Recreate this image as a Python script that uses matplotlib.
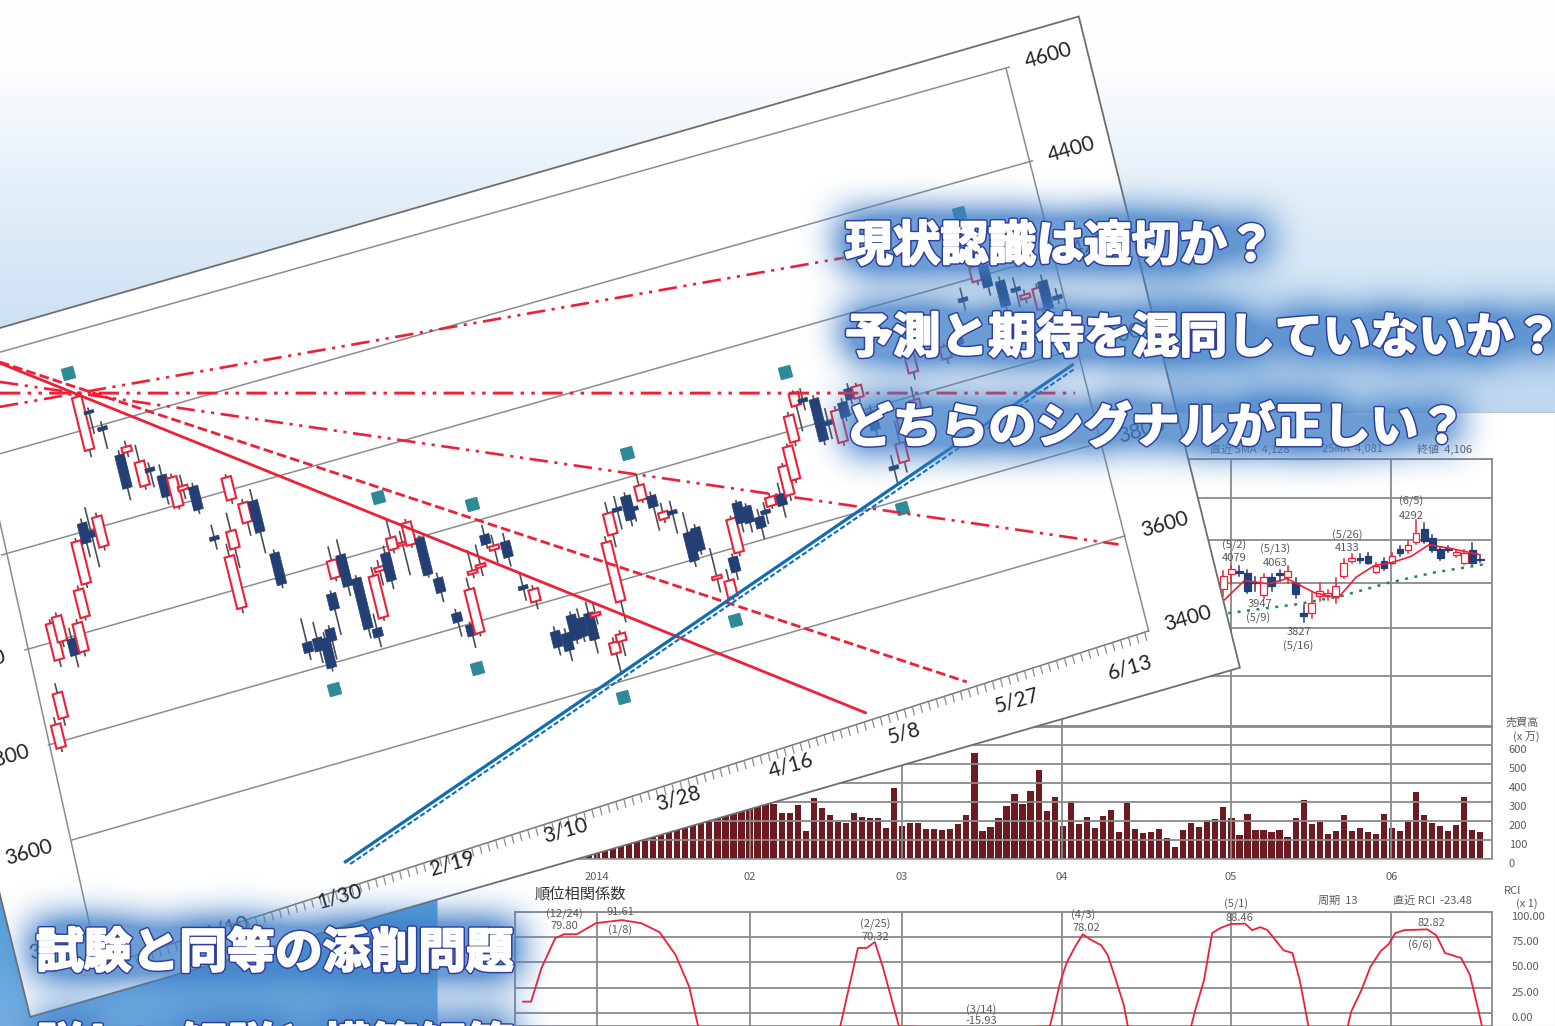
import numpy as np
import matplotlib
matplotlib.use('Agg')
import matplotlib.pyplot as plt
import matplotlib.patheffects as pe
from matplotlib.patches import Rectangle, Polygon
from matplotlib.markers import MarkerStyle
from matplotlib.transforms import Affine2D

plt.rcParams['font.family'] = ['Noto Sans CJK JP', 'DejaVu Sans']

W, H = 1555, 1026

# ---- tilted chart data (day number, price)
main_days = [1.4, 2.5, 3.7, 4.6, 5.7, 6.8, 7.9, 9.0, 10.2, 11.0, 12.1, 13.2, 14.2, 15.3, 16.5, 17.5, 18.6, 19.6, 20.8,
             21.9, 22.9, 24.1, 25.1, 26.3, 27.2, 28.2, 29.4, 30.6, 31.6, 32.8, 34.1, 35.0, 35.8, 37.0, 38.0, 39.2,
             40.35, 41.3, 42.4, 43.3, 44.4, 45.5, 46.7, 47.7, 48.8, 49.8, 50.9, 52.2, 53.1, 54.0, 55.1, 56.4, 57.2,
             58.6, 59.4, 60.5, 61.8, 63.0, 64.1, 65.0, 66.2, 67.0, 68.3, 69.3, 70.3, 71.3, 72.5, 73.8, 74.4, 75.7,
             76.8, 77.7, 78.8, 80.0, 81.0, 82.1, 83.4, 84.5, 85.4, 86.5, 87.5, 88.7, 89.6, 90.5, 91.8, 92.9, 94.0,
             95.0, 96.2, 97.1, 98.4, 99.4, 100.6, 101.6, 102.7, 103.7, 104.7, 105.7, 107.1, 108.0, 110.0, 110.7,
             115.0, 116.8, 118.5, 120.7, 121.8, 123.3, 124.9, 125.8, 127.4, 128.2, 129.5]
main_open = [3788, 3845, 3962, 3996, 3996, 3964, 4031, 4096, 4217, 4197, 4159, 4357, 4434, 4395, 4330, 4331, 4255, 4287,
             4266, 4195, 4225, 4226, 4116, 3960, 4081, 4179, 4125, 4164, 4049, 3855, 3858, 3853, 3869, 3937, 3966, 4008,
             3953, 3843, 3861, 3954, 3986, 3989, 3992, 3988, 3996, 3907, 3828, 3797, 3776, 3896, 3904, 3966, 3931, 3941,
             3844, 3806, 3736, 3726, 3759, 3748, 3753, 3743, 3658, 3679, 3758, 3894, 3944, 3962, 3936, 3945, 3948, 3895,
             3907, 3855, 3860, 3747, 3703, 3781, 3787, 3886, 3873, 3845, 3855, 3860, 3878, 3871, 3898, 3973, 4043, 4053,
             4046, 3994, 3945, 4023, 4047, 4023, 3990, 3869, 3871, 3937, 3967, 4042, 4050, 4095, 4160, 4185, 4212, 4172,
             4150, 4123, 4093, 4148, 4111]
main_close = [3836, 3897, 4038, 4048, 3961, 4023, 4088, 4184, 4175, 4183, 4221, 4468, 4428, 4387, 4260, 4342, 4305, 4279,
              4221, 4256, 4233, 4177, 4108, 4068, 4117, 4225, 4165, 4098, 3983, 3834, 3831, 3791, 3843, 3904, 4002, 3942,
              3847, 3825, 3948, 3962, 3928, 4013, 3997, 4034, 3919, 3877, 3809, 3774, 3867, 3902, 3910, 3946, 3939, 3908,
              3836, 3831, 3703, 3690, 3707, 3709, 3697, 3749, 3681, 3694, 3882, 3938, 3936, 3912, 3928, 3975, 3924, 3909,
              3899, 3795, 3812, 3753, 3737, 3750, 3857, 3843, 3839, 3822, 3847, 3878, 3854, 3931, 3967, 4027, 4069, 4045,
              3958, 3986, 4011, 3992, 4024, 4047, 3950, 3861, 3910, 3960, 3987, 4078, 4075, 4070, 4152, 4215, 4167, 4119,
              4142, 4131, 4137, 4089, 4103]
main_high = [3850, 3916, 4045, 4055, 4017, 4030, 4095, 4190, 4225, 4245, 4228, 4472, 4439, 4405, 4338, 4353, 4339, 4297,
             4287, 4262, 4255, 4232, 4139, 4093, 4154, 4230, 4172, 4187, 4055, 3904, 3890, 3864, 3875, 3942, 4030, 4039,
             3958, 3872, 3965, 3975, 4000, 4050, 4020, 4040, 4000, 3917, 3835, 3802, 3890, 3944, 3950, 3985, 3960, 3957,
             3867, 3838, 3745, 3735, 3765, 3767, 3775, 3770, 3690, 3700, 3893, 3960, 3967, 3968, 3960, 3998, 3955, 3927,
             3926, 3896, 3866, 3810, 3760, 3787, 3862, 3890, 3878, 3860, 3870, 3885, 3900, 3936, 3972, 4034, 4073, 4073,
             4052, 4020, 4018, 4030, 4056, 4052, 4000, 3890, 3956, 3970, 4013, 4085, 4080, 4105, 4180, 4225, 4220, 4180,
             4170, 4140, 4145, 4160, 4125]
main_low = [3780, 3830, 3948, 3985, 3937, 3955, 4025, 4088, 4147, 4122, 4152, 4343, 4387, 4350, 4236, 4322, 4248, 4248,
            4206, 4190, 4207, 4170, 4090, 3950, 4041, 4171, 4098, 4055, 3977, 3820, 3807, 3785, 3806, 3852, 3960, 3923,
            3828, 3805, 3855, 3925, 3912, 3982, 3930, 3983, 3915, 3858, 3780, 3750, 3770, 3888, 3887, 3938, 3905, 3890,
            3814, 3791, 3687, 3669, 3700, 3700, 3670, 3727, 3614, 3649, 3715, 3868, 3900, 3900, 3907, 3940, 3876, 3888,
            3860, 3784, 3805, 3720, 3698, 3735, 3780, 3825, 3820, 3800, 3827, 3855, 3830, 3860, 3892, 3965, 3990, 4030,
            3950, 3958, 3938, 3985, 4015, 4015, 3935, 3833, 3850, 3930, 3960, 4028, 4040, 4055, 4135, 4178, 4150, 4105,
            4110, 4115, 4085, 4080, 4095]

signal_days = [12.9, 45.2, 55.9, 75.3, 95.9, 120.5, 34.6, 51.8, 67.8, 83.0, 105.5]
signal_price = [4520, 4100, 4033, 4045, 4115, 4329, 3748, 3708, 3569, 3656, 3782]

grid_levels = [3600, 3800, 4000, 4200, 4400, 4600]
right_labels = [3400, 3600, 3800, 4000, 4200, 4400, 4600]
left_labels = [3400, 3600, 3800, 4000]
date_days = [15.3, 29.3, 43.3, 57.3, 71.3, 85.3, 99.3, 113.3, 127.3]
date_labels = ['1/10', '1/30', '2/19', '3/10', '3/28', '4/16', '5/8', '5/27', '6/13']

# ---- back chart data
vol = [260, 270, 280, 290, 300, 305, 310, 315, 320, 320, 325, 330, 330, 335, 335, 340, 340, 345, 345, 350, 350, 350,
       340, 288,
       240, 240, 284, 149, 319, 267, 232, 196, 188, 240, 223, 214, 218, 165, 372, 175, 191, 189, 158, 156, 151, 158,
       182, 230, 556, 149, 167, 218, 279, 344, 288, 356, 468, 251, 325, 175, 304, 184, 223, 165, 225, 256, 140, 293,
       158, 135, 140, 156, 109, 65, 151, 191, 170, 204, 211, 272, 216, 128, 239, 153, 151, 144, 151, 114, 214, 312,
       184, 193, 130, 146, 233, 146, 165, 140, 130, 239, 165, 146, 200, 353, 232, 189, 172, 146, 177, 328, 151, 140]
month_pos = [1, 20, 39, 58.9, 79.95, 99.9]
month_labels = ['2014', '02', '03', '04', '05', '06']

back_days = list(range(79, 112))
back_open = [3974, 4042, 4055, 4047, 4003, 3947, 4025, 4044, 4025, 4000, 3866, 3866, 3942, 3942, 3942, 4033, 4100, 4115,
             4122, 4051, 4102, 4093, 4157, 4152, 4188, 4250, 4210, 4157, 4160, 4130, 4093, 4152, 4110]
back_close = [4033, 4065, 4047, 3965, 3998, 4025, 3988, 4038, 4056, 3952, 3853, 3911, 3965, 3955, 3988, 4093, 4115, 4105,
              4093, 4079, 4070, 4122, 4135, 4176, 4230, 4195, 4150, 4115, 4150, 4140, 4135, 4093, 4103]
back_high = [4055, 4079, 4079, 4060, 4025, 4040, 4040, 4060, 4075, 4020, 3900, 3955, 4000, 3970, 4020, 4110, 4133, 4133,
             4135, 4090, 4115, 4135, 4170, 4195, 4292, 4280, 4220, 4165, 4170, 4150, 4150, 4185, 4128]
back_low = [3942, 3996, 4033, 3955, 3965, 3933, 3965, 4010, 4000, 3933, 3827, 3845, 3920, 3925, 3911, 4020, 4090, 4090,
            4085, 4045, 4060, 4085, 4125, 4135, 4180, 4185, 4140, 4105, 4140, 4120, 4085, 4088, 4095]

ma5_x = [79, 81.6, 84.7, 86.9, 90.4, 93.3, 95.5, 97.8, 100, 102.4, 104.6, 107.5, 110.9]
ma5_y = [3920, 4010, 3996, 4020, 3955, 3933, 4025, 4079, 4093, 4122, 4176, 4157, 4130]
ma25_x = [79.6, 88.2, 93.8, 99.5, 105.2, 111.7]
ma25_y = [3866, 3905, 3942, 4000, 4047, 4086]

rci_x = [-8.2, -7.2, -5.9, -4.2, -3.1, -1.5, 0.9, 4.1, 6.5, 8.8, 10.8, 12.5, 13.6, 22, 31.3, 33.5, 34.6, 35.6, 36.6,
         38.6, 49, 57.4, 57.8, 58.7, 59.5, 60.5, 61.5, 62.4, 63.8, 64.6, 65.5, 66.6, 67.1, 71, 75, 75.5, 76.6, 77.6,
         78.6, 79.9, 81.7, 82.6, 83.6, 84.5, 85.4, 86.5, 87.6, 88.5, 89.6, 92, 94.5, 94.9, 96.2, 97.3, 98.6, 99.6,
         100.4, 101.5, 104.4, 105.5, 106.6, 108.6, 109.7, 110.6, 111.2]
rci_y = [11.2, 11.2, 44.5, 74, 78, 78, 89, 92, 89, 80, 57.4, 25.7, -13, -50, -13, 64.4, 64.4, 70.3, 45.5, -13, -15.93,
         -13, 0, 31, 50, 65, 78, 73, 67, 57.4, 35.6, 8, -13, -40, -13, 3, 32.7, 79, 84, 88.1, 88.46, 82, 85, 82, 73,
         62, 59.4, 32.7, -13, -40, -13, 1, 22.8, 45.5, 61.4, 68.3, 79, 82, 82.82, 77, 59.4, 54.5, 37.6, 8, -13]

captions = ['現状認識は適切か？', '予測と期待を混同していないか？', 'どちらのシグナルが正しい？', '試験と同等の添削問題', '詳しい解説と模範解答']
cap_pos = [(845, 246), (845, 338), (845, 428), (36, 953), (36, 1048)]

RED = '#ee1f36'
NAVY = '#243f73'
GRID = '#8a8a8a'
TXT = '#5a5a5a'


def blurred_caption_mask():
    # draw the captions off screen and blur them, the glow behind the text
    f2 = plt.figure(figsize=(W / 100, H / 100), dpi=100)
    a2 = f2.add_axes([0, 0, 1, 1])
    a2.set_xlim(0, W)
    a2.set_ylim(H, 0)
    a2.axis('off')
    for s, (cx, cy) in zip(captions, cap_pos):
        a2.text(cx, cy, s, ha='left', va='center', fontsize=34.4, fontweight='bold', color='black',
                path_effects=[pe.Stroke(linewidth=10, foreground='black'), pe.Normal()])
    f2.canvas.draw()
    m = 1 - np.asarray(f2.canvas.buffer_rgba())[:, :, 0] / 255.0
    plt.close(f2)
    r = 17
    for axis in (0, 1, 0, 1, 0, 1):
        pad = [(0, 0), (0, 0)]
        pad[axis] = (r + 1, r)
        c = np.cumsum(np.pad(m, pad, mode='edge'), axis=axis)
        if axis == 0:
            m = (c[2 * r + 1:, :] - c[:-2 * r - 1, :]) / (2 * r + 1)
        else:
            m = (c[:, 2 * r + 1:] - c[:, :-2 * r - 1]) / (2 * r + 1)
    return m


fig = plt.figure(figsize=(W / 100, H / 100), dpi=100)


def px_axes(left, top, right, bottom, z):
    a = fig.add_axes([left / W, 1 - bottom / H, (right - left) / W, (bottom - top) / H], zorder=z)
    a.patch.set_alpha(0)
    return a


# ---- background
bg = px_axes(0, 0, W, H, 0)
ys = np.arange(H)
stops = [0, 70, 200, 410, 900, 1026]
cols = np.array([[255, 255, 255], [252, 253, 254], [226, 238, 248], [190, 216, 240], [84, 158, 216], [118, 176, 226]]) / 255
grad = np.stack([np.interp(ys, stops, cols[:, k]) for k in range(3)], axis=1)[:, None, :]
bg.imshow(grad, extent=(0, W, H, 0), aspect='auto')
bg.add_patch(Rectangle((437, 412), W - 437, H - 412, fc='white', ec='#c4c8cc', lw=0.8))
bg.set_xlim(0, W)
bg.set_ylim(H, 0)
bg.axis('off')

# ---- back chart, shared x scale
x_left, x_right = -9.2, 112.45


def style_back(a):
    a.set_xlim(x_left, x_right)
    a.set_xticks(month_pos)
    a.grid(True, color=GRID, lw=1.3)
    a.set_axisbelow(False)
    a.tick_params(length=0, colors=TXT, labelsize=8)
    a.yaxis.tick_right()
    for s in a.spines.values():
        s.set_color(GRID)
        s.set_linewidth(1.3)


# candles in the back
ax_c = px_axes(515, 459, 1492, 727, 1)
ax_c.set_yscale('log')
ax_c.set_ylim(3400, 4600)
style_back(ax_c)
ax_c.set_yticks(grid_levels)
ax_c.minorticks_off()
ax_c.set_yticklabels([])
ax_c.set_xticklabels([])
ax_c.set_axisbelow(True)
for d, o, c, h, l in zip(back_days, back_open, back_close, back_high, back_low):
    up = c >= o
    ax_c.plot([d, d], [l, h], color=RED if up else NAVY, lw=1.1, zorder=3)
    ax_c.add_patch(Rectangle((d - 0.42, min(o, c)), 0.84, max(abs(c - o), 6), fc='white' if up else NAVY,
                             ec=RED if up else NAVY, lw=0.9, zorder=4))
ax_c.plot(ma5_x, ma5_y, color=RED, lw=1.2, zorder=5)
ax_c.plot(ma25_x, ma25_y, color='#1b8f45', lw=1.8, ls=(0, (1.2, 2.6)), zorder=5)

back_notes = [(80.4, 4172, '(5/2)'), (80.4, 4115, '4079'), (85.4, 4153, '(5/13)'), (85.4, 4093, '4063'),
              (83.6, 3905, '3947'), (83.3, 3845, '(5/9)'), (88.4, 3785, '3827'), (88.3, 3725, '(5/16)'),
              (94.4, 4222, '(5/26)'), (94.4, 4162, '4133'), (102.4, 4383, '(6/5)'), (102.4, 4315, '4292'),
              (82.3, 4652, '直近 5MA  4,128'), (95.1, 4652, '25MA  4,081'), (106.6, 4652, '終値  4,106')]
for nx, ny, s in back_notes:
    ax_c.text(nx, ny, s, ha='center', va='center', fontsize=8, color=TXT, clip_on=False, zorder=6)

# volume bars
ax_v = px_axes(515, 726, 1492, 859, 1)
style_back(ax_v)
ax_v.bar(np.arange(len(vol)), vol, width=0.78, color='#6e1a22', zorder=1)
ax_v.set_ylim(0, 700)
ax_v.set_yticks([0, 100, 200, 300, 400, 500, 600, 700])
ax_v.set_yticklabels(['0', '100', '200', '300', '400', '500', '600', ''], va='top')
ax_v.set_xticklabels(month_labels)
ax_v.tick_params(axis='y', pad=12)
ax_v.tick_params(axis='x', pad=9)
ax_v.spines['bottom'].set_color('#66b4c8')
ax_v.text(116.2, 716, '売買高', ha='center', va='center', fontsize=8, color=TXT, clip_on=False)
ax_v.text(116.7, 647, '(x 万)', ha='center', va='center', fontsize=8, color=TXT, clip_on=False)

# RCI panel
ax_r = px_axes(515, 912, 1492, 1026, 1)
style_back(ax_r)
ax_r.plot(rci_x, rci_y, color=RED, lw=1.3, zorder=4)
ax_r.set_ylim(-12.9, 100)
ax_r.set_yticks([0, 25, 50, 75, 100])
ax_r.set_yticklabels(['0.00', '25.00', '50.00', '75.00', '100.00'], va='top')
ax_r.set_xticklabels([])
ax_r.tick_params(axis='y', pad=14)
rci_notes = [(-3, 98, '(12/24)'), (-3, 86, '79.80'), (3.9, 100, '91.61'), (3.9, 82, '(1/8)'), (35.7, 88, '(2/25)'),
             (35.7, 75, '70.32'), (61.5, 97, '(4/3)'), (62, 84, '78.02'), (80.6, 108, '(5/1)'), (81, 94, '88.46'),
             (104.9, 89, '82.82'), (103.5, 67, '(6/6)'), (48.8, 3, '(3/14)'), (48.8, -8, '-15.93'),
             (93.3, 111, '周期  13'), (105, 111, '直近 RCI  -23.48'), (115, 120.8, 'RCI'), (116.8, 108, '(x 1)')]
for nx, ny, s in rci_notes:
    ax_r.text(nx, ny, s, ha='center', va='center', fontsize=8, color=TXT, clip_on=False, zorder=6)
ax_r.text(-1, 118, '順位相関係数', ha='center', va='center', fontsize=11, color='#333333', clip_on=False)

# ---- tilted sheet on top
fr = px_axes(0, 0, W, H, 2)
# day, price -> sheet pixel
tilt = Affine2D.from_values(8.07, -2.33, -0.1175, -0.475, 72 + 0.1175 * 3600, 840 + 0.475 * 3600) + fr.transData

fr.add_patch(Polygon([(-9.9, 3276), (140, 3276), (140, 4647), (-9.9, 4647)], closed=True, fc='white', ec='#6e6e6e',
                     lw=1.3, transform=tilt, zorder=2))


def right_end(lev):
    # the photo of the sheet is a bit squeezed at the upper right
    return lev - (lev - 3600) * 0.013


for lev in grid_levels:
    fr.plot([0, 130.5], [lev, right_end(lev)], color='#8c8c8c', lw=1.1, transform=tilt, zorder=3)
fr.plot([130.1, 130.5], [right_end(4600), 3400], color='#8c8c8c', lw=1.1, transform=tilt, zorder=3)
fr.plot([-0.5, 1.2], [3335, 4600], color='#8c8c8c', lw=1.1, transform=tilt, zorder=3)
axis_days = np.array([-0.5, 130.5])
axis_price = np.array([3335, 3400])
fr.plot(axis_days, axis_price, color='#777777', lw=1.1, transform=tilt, zorder=3)
for d in np.arange(2, 131):
    base = np.interp(d, axis_days, axis_price)
    fr.plot([d, d], [base, base - 17], color='#8c8c8c', lw=0.9, transform=tilt, zorder=3)

# candles
for d, o, c, h, l in zip(main_days, main_open, main_close, main_high, main_low):
    up = c >= o
    fr.plot([d, d], [l, h], color='#4a4f55', lw=1.2, transform=tilt, zorder=4)
    fr.add_patch(Rectangle((d - 0.58, min(o, c)), 1.16, max(abs(c - o), 5), fc='white' if up else NAVY,
                           ec=RED if up else NAVY, lw=1.5 if up else 0.5, transform=tilt, zorder=5))

diamond = MarkerStyle('s', transform=Affine2D().rotate_deg(16))
fr.plot(signal_days, signal_price, ls='none', marker=diamond, ms=8.5, color='#2f8a98', transform=tilt, zorder=6)

# trend lines
dd = (0, (7, 2.5, 1.2, 2.5, 1.2, 2.5))
fr.plot([5.3, 95.4], [4578, 3400], color=RED, lw=2.0, transform=tilt, zorder=7)
fr.plot([5.34, 108], [4580, 3403], color=RED, lw=2.0, ls=(0, (3.5, 1.5)), transform=tilt, zorder=7)
fr.plot([4.05, 106], [4492, 4306], color=RED, lw=1.9, ls=dd, transform=tilt, zorder=7)
fr.plot([4.45, 128.8], [4519, 3909], color=RED, lw=2.1, ls=dd, transform=tilt, zorder=7)
fr.plot([4.77, 129.5], [4541, 3587], color=RED, lw=1.9, ls=dd, transform=tilt, zorder=7)
fr.plot([31, 129.3], [3402, 3966], color='#0f6db5', lw=2.3, transform=tilt, zorder=7)
fr.plot([31.5, 129.6], [3395, 3958], color='#0f6db5', lw=1.5, ls=(0, (2.5, 1.2)), transform=tilt, zorder=7)

# axis text
for lev in right_labels:
    fr.text(135.4, right_end(lev), str(lev), rotation=16, rotation_mode='anchor', ha='center', va='center',
            fontsize=15, family='Lato', color='#222222', transform=tilt, zorder=8)
for lev in left_labels:
    fr.text(-5.3, lev, str(lev), rotation=16, rotation_mode='anchor', ha='center', va='center', fontsize=15,
            family='Lato', color='#222222', transform=tilt, zorder=8)
for d, s in zip(date_days, date_labels):
    fr.text(d, 3338, s, rotation=16, rotation_mode='anchor', ha='center', va='center', fontsize=15,
            family='Lato', color='#222222', transform=tilt, zorder=8)

# big captions with the blue glow
mask = blurred_caption_mask()
glow_img = np.zeros((H, W, 4))
glow_img[:, :, :3] = np.array([66, 128, 200]) / 255
glow_img[:, :, 3] = np.clip(mask * 1.45, 0, 0.78)
fr.imshow(glow_img, extent=(0, W, H, 0), aspect='auto', zorder=9, interpolation='nearest')
fr.set_xlim(0, W)
fr.set_ylim(H, 0)
fr.axis('off')

edge = [pe.Stroke(linewidth=3.6, foreground='#2c3f9c'), pe.Stroke(linewidth=1.5, foreground='white'), pe.Normal()]
for s, (cx, cy) in zip(captions, cap_pos):
    fr.text(cx, cy, s, ha='left', va='center', fontsize=34.4, fontweight='bold', color='white', clip_on=True,
            path_effects=edge, zorder=10)

fig.savefig('out.png', dpi=100)
